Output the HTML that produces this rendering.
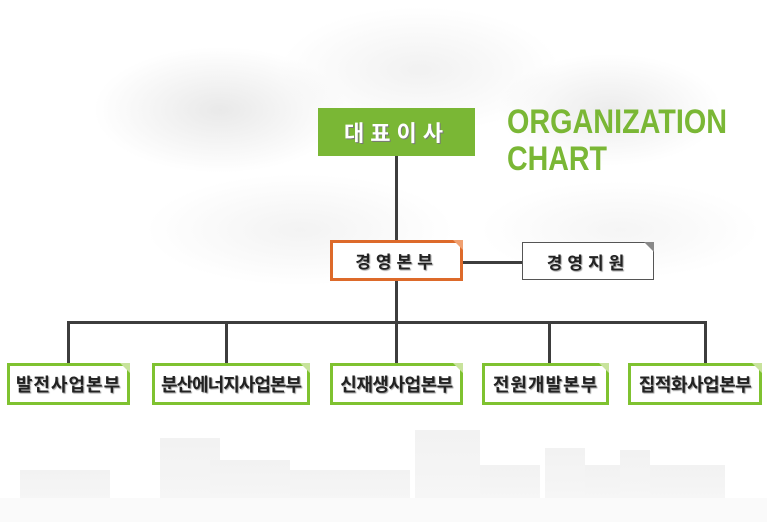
<!DOCTYPE html>
<html><head><meta charset="utf-8">
<style>
html,body{margin:0;padding:0;}
body{width:767px;height:522px;position:relative;overflow:hidden;background:#fff;font-family:"Liberation Sans","Noto Sans CJK KR",sans-serif;}
.bg{position:absolute;left:0;top:0;width:767px;height:522px;
background:
radial-gradient(ellipse 180px 90px at 220px 110px, rgba(200,200,200,0.4), rgba(255,255,255,0) 70%),
radial-gradient(ellipse 160px 80px at 610px 110px, rgba(200,200,200,0.35), rgba(255,255,255,0) 70%),
radial-gradient(ellipse 200px 90px at 420px 70px, rgba(210,210,210,0.3), rgba(255,255,255,0) 70%),
radial-gradient(ellipse 220px 80px at 300px 230px, rgba(215,215,215,0.3), rgba(255,255,255,0) 70%),
radial-gradient(ellipse 200px 70px at 620px 230px, rgba(215,215,215,0.25), rgba(255,255,255,0) 70%);}
.line{position:absolute;background:#3d3d3d;}
.box{position:absolute;box-sizing:border-box;background:#fff;display:flex;align-items:center;justify-content:center;font-weight:bold;color:#222;text-shadow:1px 1px 1px #999;}
.g{border:3px solid #7fc230;font-size:18px;}
.corner{position:absolute;right:-3px;top:-3px;width:0;height:0;border-left:10px solid transparent;border-top:10px solid #c8e39c;}
</style></head><body>
<div class="bg"></div>
<svg style="position:absolute;left:0;top:420px" width="767" height="102">
<defs><linearGradient id="f" x1="0" y1="0" x2="0" y2="1"><stop offset="0" stop-color="#f2f2f2"/><stop offset="1" stop-color="#f6f6f6"/></linearGradient></defs>
<g fill="url(#f)">
<rect x="20" y="50" width="90" height="30"/>
<rect x="160" y="18" width="60" height="62"/>
<rect x="210" y="40" width="80" height="40"/>
<rect x="290" y="50" width="120" height="30"/>
<rect x="415" y="10" width="65" height="70"/>
<rect x="480" y="45" width="60" height="35"/>
<rect x="545" y="28" width="40" height="52"/>
<rect x="585" y="45" width="140" height="35"/>
<rect x="620" y="30" width="30" height="50"/>
</g>
<rect x="0" y="78" width="767" height="24" fill="#fafafa"/>
</svg>

<div class="line" style="left:395px;top:156px;width:3px;height:166px"></div>
<div class="line" style="left:463px;top:261px;width:59px;height:3px"></div>
<div class="line" style="left:67px;top:321px;width:640px;height:3px"></div>
<div class="line" style="left:67px;top:321px;width:3px;height:43px"></div>
<div class="line" style="left:225px;top:321px;width:3px;height:43px"></div>
<div class="line" style="left:395px;top:321px;width:3px;height:43px"></div>
<div class="line" style="left:548px;top:321px;width:3px;height:43px"></div>
<div class="line" style="left:704px;top:321px;width:3px;height:43px"></div>

<div class="box" style="left:318px;top:108px;width:157px;height:48px;background:#7ab735;color:#fff;font-size:22px;letter-spacing:6px;text-shadow:1px 1px 0 #777;">대표이사</div>

<svg style="position:absolute;left:505px;top:100px" width="240" height="80">
<text x="2" y="33" font-family="Liberation Sans" font-weight="bold" font-size="34" fill="#7ab735" textLength="220" lengthAdjust="spacingAndGlyphs">ORGANIZATION</text>
<text x="2" y="70" font-family="Liberation Sans" font-weight="bold" font-size="34" fill="#7ab735" textLength="100" lengthAdjust="spacingAndGlyphs">CHART</text>
</svg>

<div class="box" style="left:330px;top:240px;width:133px;height:41px;border:3px solid #dd6a2a;font-size:17px;letter-spacing:5px;">경영본부<span class="corner" style="border-top-color:#f0a070"></span></div>
<div class="box" style="left:522px;top:242px;width:132px;height:38px;border:1.5px solid #555;font-size:17px;letter-spacing:5px;">경영지원<span class="corner" style="border-top-color:#888;right:-1px;top:-1px"></span></div>

<div class="box g" style="left:7px;top:363px;width:123px;height:42px;letter-spacing:1px;">발전사업본부<span class="corner"></span></div>
<div class="box g" style="left:152px;top:363px;width:158px;height:42px;letter-spacing:-1px;">분산에너지사업본부<span class="corner"></span></div>
<div class="box g" style="left:330px;top:363px;width:133px;height:42px;letter-spacing:-0.5px;">신재생사업본부<span class="corner"></span></div>
<div class="box g" style="left:482px;top:363px;width:127px;height:42px;letter-spacing:1px;">전원개발본부<span class="corner"></span></div>
<div class="box g" style="left:628px;top:363px;width:134px;height:42px;letter-spacing:-0.5px;">집적화사업본부<span class="corner"></span></div>
</body></html>
